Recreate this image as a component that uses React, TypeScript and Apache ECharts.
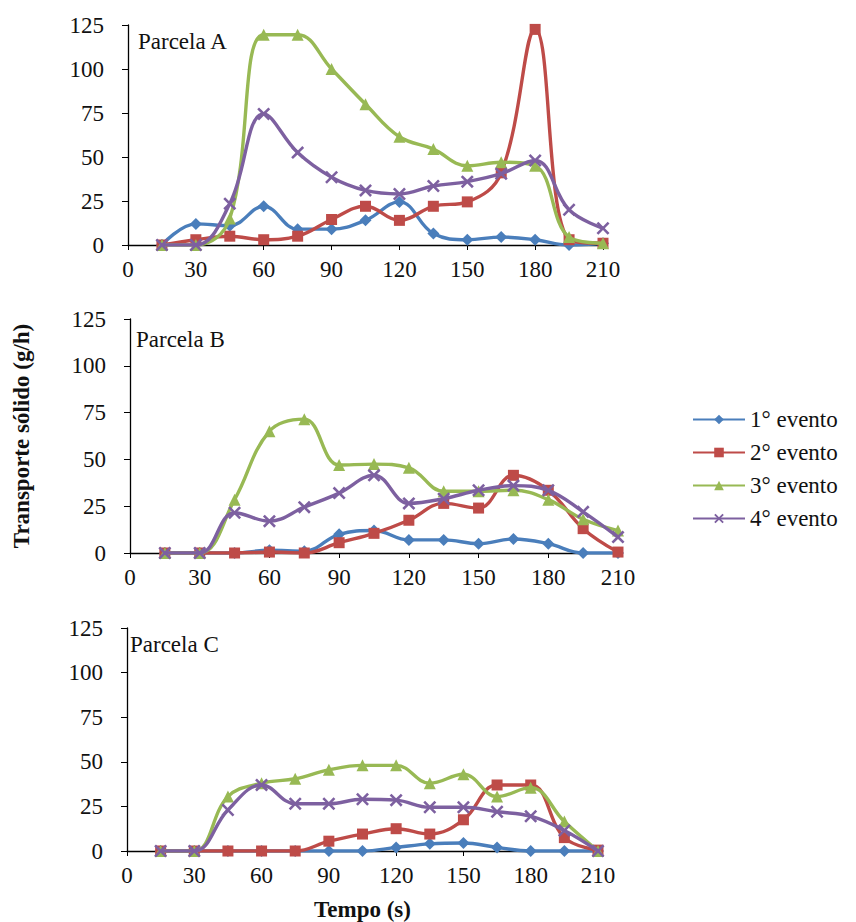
import React, { useEffect, useRef } from "react";
import * as echarts from "echarts";

const times = [15, 30, 45, 60, 75, 90, 105, 120, 135, 150, 165, 180, 195, 210];

const seriesNames = ["1° evento", "2° evento", "3° evento", "4° evento"];
const panelTitles = ["Parcela A", "Parcela B", "Parcela C"];
const xTicks = [0, 30, 60, 90, 120, 150, 180, 210];
const yTicks = [0, 25, 50, 75, 100, 125];

// Parcela A
const a1 = [0, 12, 11, 22, 9, 9, 14, 24.5, 6.5, 3, 4.5, 3, 0, 1];
const a2 = [0, 3, 5, 3, 5, 14.5, 22, 14, 22, 24.5, 41, 122.5, 3, 1];
const a3 = [0, 0, 15, 119.5, 119.5, 100, 80, 61.5, 54.5, 45, 47, 45, 4.5, 1];
const a4 = [0, 0, 23.5, 74.5, 52.5, 38.5, 31, 29, 33.5, 36, 40.5, 48, 20, 9.5];
// Parcela B
const b1 = [0, 0, 0, 1.5, 1, 10, 12, 7, 7, 5, 7.5, 5, 0, 0];
const b2 = [0, 0, 0, 0.5, 0, 5.5, 10.5, 17.5, 26.5, 24, 41.5, 33.5, 13, 0.5];
const b3 = [0, 0, 28.5, 65, 71.5, 47, 47.5, 45.5, 33, 33, 33.5, 28.5, 18, 12];
const b4 = [0, 0, 21.5, 17, 24.5, 32, 41.5, 26.5, 29, 33.5, 36, 33.5, 22, 8.5];
// Parcela C
const c1 = [0, 0, 0, 0, 0, 0, 0, 2, 4, 4.5, 2, 0, 0, 0];
const c2 = [0, 0, 0, 0, 0, 5.5, 9.5, 12.5, 9.5, 17.5, 37, 37, 7.5, 0.5];
const c3 = [0, 0, 30.5, 38, 40.5, 45.5, 48, 48, 38, 43, 30.5, 35.5, 16.5, 0];
const c4 = [0, 0, 23, 37, 26.5, 26.5, 29, 28.5, 24.5, 24.5, 22, 19.5, 11.5, 0];

const panels = [
  [a1, a2, a3, a4],
  [b1, b2, b3, b4],
  [c1, c2, c3, c4],
];

const colors = ["#4A7EBB", "#BE4B48", "#98B954", "#7D60A0"];
const xSymbol =
  "path://M0,1.4L1.4,0L5,3.6L8.6,0L10,1.4L6.4,5L10,8.6L8.6,10L5,6.4L1.4,10L0,8.6L3.6,5Z";
const symbols = ["diamond", "rect", "triangle", xSymbol];
const symbolSizes = [12, 11, 12, 13];

const FONT = "Liberation Serif";

const grids = [
  { left: 128, top: 25, width: 475, height: 220 },
  { left: 130, top: 319, width: 488, height: 234 },
  { left: 127, top: 628, width: 471, height: 223 },
];

export default function App() {
  const ref = useRef<HTMLDivElement>(null);
  useEffect(() => {
    document.body.style.margin = "0";
    const chart = echarts.init(ref.current!, null, { renderer: "svg" });
    const xAxes = grids.map((_, i) => ({
      type: "value",
      gridIndex: i,
      min: xTicks[0],
      max: xTicks[xTicks.length - 1],
      interval: 30,
      axisLine: { show: true, lineStyle: { color: "#000", width: 1.3 } },
      axisTick: { show: true, inside: false, length: 5, lineStyle: { color: "#000" } },
      axisLabel: { color: "#111", fontFamily: FONT, fontSize: 23, margin: 13 },
      splitLine: { show: false },
      ...(i === 2
        ? {
            name: "Tempo (s)",
            nameLocation: "middle",
            nameGap: 47,
            nameTextStyle: { fontFamily: FONT, fontSize: 23, fontWeight: "bold", color: "#111" },
          }
        : {}),
    }));
    const yAxes = grids.map((_, i) => ({
      type: "value",
      gridIndex: i,
      min: yTicks[0],
      max: yTicks[yTicks.length - 1],
      interval: 25,
      axisLine: { show: true, lineStyle: { color: "#000", width: 1.3 } },
      axisTick: { show: true, inside: false, length: 6, lineStyle: { color: "#000" } },
      axisLabel: { color: "#111", fontFamily: FONT, fontSize: 23, margin: 24 },
      splitLine: { show: false },
      ...(i === 1
        ? {
            name: "Transporte sólido (g/h)",
            nameLocation: "middle",
            nameGap: 97,
            nameRotate: 90,
            nameTextStyle: { fontFamily: FONT, fontSize: 23, fontWeight: "bold", color: "#111" },
          }
        : {}),
    }));
    const series: any[] = [];
    panels.forEach((vals, p) => {
      vals.forEach((arr, s) => {
        series.push({
          type: "line",
          name: seriesNames[s],
          xAxisIndex: p,
          yAxisIndex: p,
          data: times.map((t, k) => [t, arr[k]]),
          smooth: 0.4,
          symbol: symbols[s],
          symbolSize: symbolSizes[s],
          showSymbol: true,
          lineStyle: { color: colors[s], width: 3.4 },
          itemStyle: { color: colors[s] },
          z: 2 + s,
        });
      });
    });
    chart.setOption({
      animation: false,
      backgroundColor: "#fff",
      color: colors,
      grid: grids,
      xAxis: xAxes,
      yAxis: yAxes,
      title: panelTitles.map((t, i) => ({
        text: t,
        left: [138, 136, 130][i],
        top: [30, 328, 633][i],
        padding: 0,
        textStyle: { fontFamily: FONT, fontSize: 23, fontWeight: "normal", color: "#111" },
      })),
      legend: {
        orient: "vertical",
        left: 692,
        top: 408,
        padding: 0,
        itemWidth: 52,
        itemHeight: 12,
        itemGap: 10,
        data: seriesNames,
        textStyle: { fontFamily: FONT, fontSize: 23, color: "#111" },
      },
      series,
    });
    return () => chart.dispose();
  }, []);
  return <div ref={ref} style={{ width: 856, height: 922 }} />;
}
